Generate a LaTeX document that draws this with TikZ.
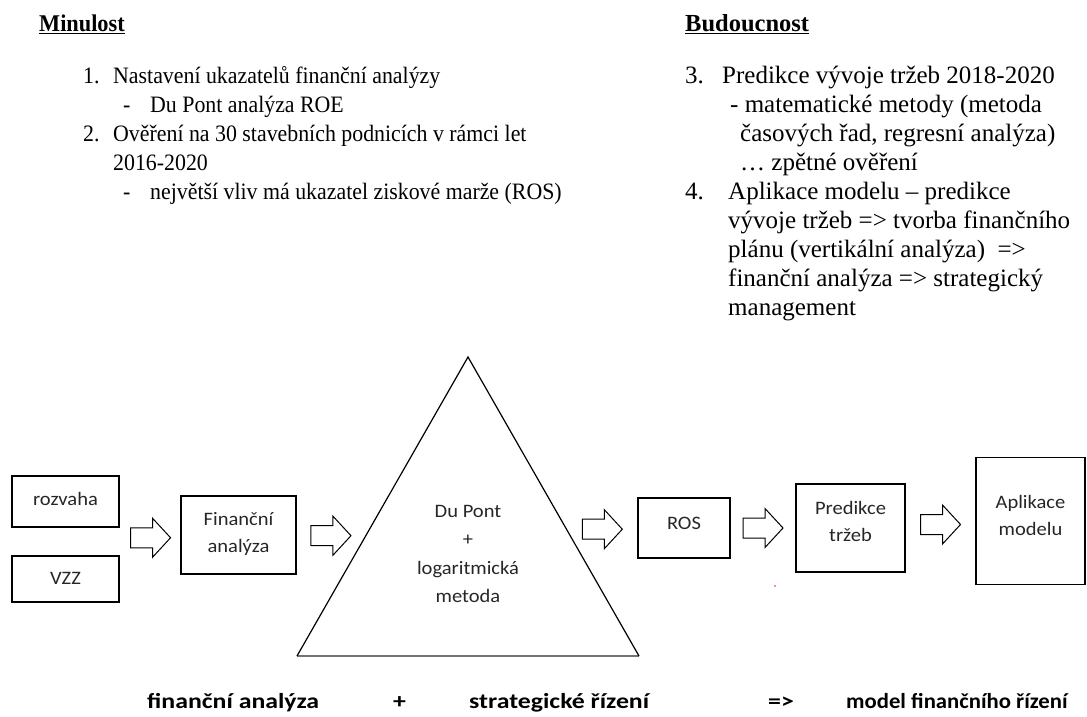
\documentclass[tikz,border=0pt]{standalone}
\usepackage{fontspec}
\setmainfont{Liberation Serif}
\newfontfamily\leftfont{Liberation Serif}[FakeStretch=0.93]
\newfontfamily\boxfont{Carlito}[FakeStretch=1.08]
\newfontfamily\footfont{Carlito}[FakeStretch=1.2]
\usetikzlibrary{calc}
\begin{document}
\begin{tikzpicture}[x=1pt,y=-1pt,
  ltxt/.style={anchor=base west, inner sep=0pt, font=\leftfont\fontsize{23.5}{26}\selectfont},
  rtxt/.style={anchor=base west, inner sep=0pt, font=\fontsize{25}{28}\selectfont},
  head/.style={anchor=base west, inner sep=0pt},
  stage/.style={draw=black, line width=1.1pt, inner sep=0pt},
  stagetext/.style={inner sep=0pt, align=center,
    font=\boxfont\fontsize{19}{27}\selectfont, text=black!85},
  foot/.style={anchor=base west, inner sep=0pt, font=\footfont\bfseries\fontsize{21.5}{24}\selectfont},
  blockarrow/.pic={\draw[line width=1pt, fill=white]
    (-20,-10) -- (2,-10) -- (2,-19.5) -- (20,0) -- (2,19.5) -- (2,10) -- (-20,10) -- cycle;}]
\useasboundingbox (0,0) rectangle (1087,717);

% --- past: financial analysis ---
\node[head, font=\leftfont\bfseries\fontsize{24}{26}\selectfont] (hpast) at (39,32) {\underline{Minulost}};
\node[ltxt] (n1) at (83,83) {1.};
\node[ltxt] (t1) at (113,83) {Nastavení ukazatelů finanční analýzy};
\node[ltxt] (d1) at (123,112) {-};
\node[ltxt] (s1) at (150,112) {Du Pont analýza ROE};
\node[ltxt] (n2) at (83,141) {2.};
\node[ltxt] (t2) at (113,141) {Ověření na 30 stavebních podnicích v rámci let};
\node[ltxt] (t2b) at (113,170) {2016-2020};
\node[ltxt] (d2) at (123,199) {-};
\node[ltxt] (s2) at (150,199) {největší vliv má ukazatel ziskové marže (ROS)};

% --- future: prediction and application ---
\node[head, font=\bfseries\fontsize{24.5}{27}\selectfont] (hfut) at (685,32) {\underline{Budoucnost}};
\node[rtxt] (n3) at (685,83) {3.};
\node[rtxt] (t3) at (722,83) {Predikce vývoje tržeb 2018-2020};
\node[rtxt] (t3a) at (730,112) {- matematické metody (metoda};
\node[rtxt] (t3b) at (740,141) {časových řad, regresní analýza)};
\node[rtxt] (t3c) at (740,170) {\dots\ zpětné ověření};
\node[rtxt] (n4) at (685,199) {4.};
\node[rtxt] (t4) at (728,199) {Aplikace modelu – predikce};
\node[rtxt] (t4a) at (728,228) {vývoje tržeb => tvorba finančního};
\node[rtxt] (t4b) at (728,257) {plánu (vertikální analýza) \ =>};
\node[rtxt] (t4c) at (728,286) {finanční analýza => strategický};
\node[rtxt] (t4d) at (728,315) {management};

% --- process chain ---
\node[stage, minimum width=107pt, minimum height=51pt] (roz) at (65.5,501.5) {};
\node[stagetext] (rozt) at (65.5,499) {rozvaha};
\node[stage, minimum width=107pt, minimum height=46pt] (vzz) at (65.5,579) {};
\node[stagetext] (vzzt) at (65.5,578) {VZZ};
\node[stage, minimum width=115pt, minimum height=78pt] (fin) at (238.5,535) {};
\node[stagetext] (fint) at (238.5,534) {Finanční\\analýza};

% Du Pont triangle: dark sides, a greyer and heavier base
\coordinate (tL) at (297,656);
\coordinate (tR) at (639,656);
\coordinate (tA) at (468,357);
\draw[black!55, line width=2pt] (tL) -- (tR);
\draw[line width=1.2pt, line join=miter] (tL) -- (tA) -- (tR);
\node[stagetext, font=\boxfont\fontsize{19}{28.5}\selectfont]
  (dupont) at (468,554) {Du Pont\\+\\logaritmická\\metoda};

\node[stage, minimum width=92pt, minimum height=60pt] (ros) at (684,528) {};
\node[stagetext] (rost) at (684,523) {ROS};
\node[stage, minimum width=109pt, minimum height=88pt] (pred) at (850.5,528) {};
\node[stagetext] (predt) at (850.5,521) {Predikce\\tržeb};
\node[stage, minimum width=109pt, minimum height=127pt] (apl) at (1030.5,521) {};
\node[stagetext] (aplt) at (1030.5,515) {Aplikace\\modelu};

\coordinate (tLm) at ($(tL)!0.4!(tA)$);
\coordinate (tRm) at ($(tR)!0.42!(tA)$);
\pic at ($(roz.east)!0.5!(vzz.east) + (31,-2.5)$) {blockarrow};
\pic at ($(fin.east)!0.5!(tLm)$) {blockarrow};
\pic at ($(tRm)!0.5!(ros.west)$) {blockarrow};
\pic at ($(ros.east)!0.5!(pred.west)$) {blockarrow};
\pic at ($(pred.east)!0.5!(apl.west)$) {blockarrow};

\fill[red!60!white] (775,586) circle (1.2pt);

% --- summary line ---
\node[foot] (fa) at (147,708) {finanční analýza};
\node[foot] (plus) at (393,708) {+};
\node[foot] (sr) at (469,708) {strategické řízení};
\node[foot] (impl) at (768,708) {=>};
\node[foot] (mfr) at (846,708) {\scalebox{0.88}[1]{model finančního řízení}};
\end{tikzpicture}
\end{document}
